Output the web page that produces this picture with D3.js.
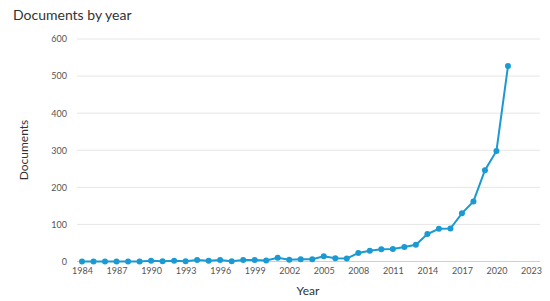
<!DOCTYPE html>
<html><head><meta charset="utf-8">
<script src="https://cdn.jsdelivr.net/npm/d3@7"></script>
<style>body{margin:0;background:#fff;} svg{display:block;font-family:Lato,"Open Sans",sans-serif;}</style>
</head><body>
<svg id="chart" width="550" height="301"></svg>
<script>
const years = d3.range(1984, 2022);
const documents = [0,0,0,0,0,0,2,1,2,1,4,2,4,1,4,4,3,10,5,6,6,14,9,8,23,29,33,34,39,45,74,88,89,130,162,246,298,527];
const yTicks = [0,100,200,300,400,500,600];
const xTicks = [1984,1987,1990,1993,1996,1999,2002,2005,2008,2011,2014,2017,2020,2023];

const svg = d3.select("#chart");
const x = d3.scaleLinear().domain([1984, 2023]).range([82, 531]);
const y = d3.scaleLinear().domain([0, 600]).range([261.5, 39]);

svg.append("text").attr("x", 13).attr("y", 20).attr("font-size", 14).attr("fill", "#323232").text("Documents by year");

const yAxis = d3.axisLeft(y).tickValues(yTicks).tickSize(0).tickPadding(0);
const gy = svg.append("g").attr("transform", "translate(67,0)").call(yAxis);
gy.select(".domain").remove();
gy.selectAll("text").attr("font-size", 9).attr("fill", "#555").attr("font-family", "Lato,sans-serif");

svg.append("g").selectAll("line").data(yTicks.filter(d => d > 0)).join("line")
  .attr("x1", 77).attr("x2", 540).attr("y1", d => y(d)).attr("y2", d => y(d))
  .attr("stroke", "#e6e6e6").attr("stroke-width", 1);
svg.append("line").attr("x1", 77).attr("x2", 540).attr("y1", y(0)).attr("y2", y(0))
  .attr("stroke", "#c8d0e0").attr("stroke-width", 1);

const xAxis = d3.axisBottom(x).tickValues(xTicks).tickFormat(d3.format("d")).tickSize(0).tickPadding(0);
const gx = svg.append("g").attr("transform", "translate(0,268)").call(xAxis);
gx.select(".domain").remove();
gx.selectAll("text").attr("font-size", 9).attr("fill", "#555").attr("font-family", "Lato,sans-serif");

svg.append("text").attr("x", 308).attr("y", 295).attr("text-anchor", "middle").attr("font-size", 12).attr("fill", "#323232").text("Year");
svg.append("text").attr("transform", "translate(28,150) rotate(-90)").attr("text-anchor", "middle").attr("font-size", 12).attr("fill", "#323232").text("Documents");

const data = years.map((yr, i) => ({yr, v: documents[i]}));
svg.append("path").datum(data)
  .attr("d", d3.line().x(d => x(d.yr)).y(d => y(d.v)))
  .attr("fill", "none").attr("stroke", "#1b9ad2").attr("stroke-width", 2);
svg.append("g").selectAll("circle").data(data).join("circle")
  .attr("cx", d => x(d.yr)).attr("cy", d => y(d.v)).attr("r", 3).attr("fill", "#1b9ad2");
</script>
</body></html>
